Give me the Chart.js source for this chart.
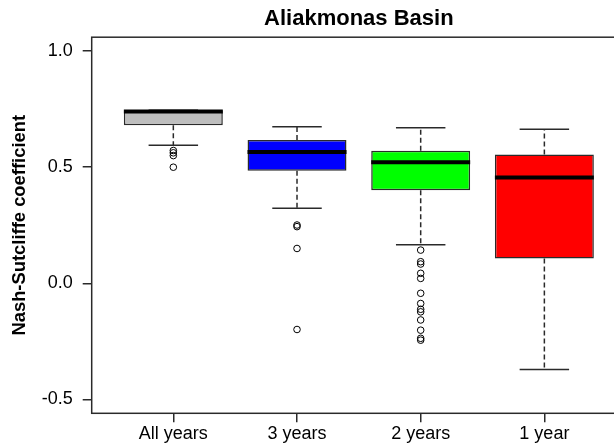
<!DOCTYPE html>
<html>
<head>
<meta charset="utf-8">
<script src="https://cdn.jsdelivr.net/npm/chart.js@4/dist/chart.umd.min.js"></script>
<style>
  html, body { margin: 0; padding: 0; background: #fff; overflow: hidden; }
  #wrap { width: 640px; height: 448px; }
</style>
</head>
<body>
<div id="wrap"><canvas id="c" width="640" height="448"></canvas></div>
<script>
// Box-plot summaries of the Nash-Sutcliffe coefficient per calibration period
const categories   = ['All years', '3 years', '2 years', '1 year'];
const boxColors    = ['#BEBEBE', '#0000FF', '#00FF00', '#FF0000'];
const lowerWhisker = [0.595, 0.323, 0.166, -0.371];
const q1           = [0.681, 0.485, 0.401, 0.107];
const median       = [0.740, 0.566, 0.521, 0.456];
const q3           = [0.745, 0.617, 0.571, 0.555];
const upperWhisker = [0.745, 0.674, 0.670, 0.664];
const outliers = [
  [0.572, 0.562, 0.550, 0.500],
  [0.251, 0.244, 0.150, -0.199],
  [0.143, 0.093, 0.083, 0.043, 0.021, -0.043, -0.087, -0.112, -0.123, -0.158, -0.202, -0.237, -0.245],
  []
];
const yTicks = [-0.5, 0.0, 0.5, 1.0];

const FONT = "'Liberation Sans', Arial, sans-serif";
const INK = '#2a2a2a';

// whiskers, caps and medians drawn from the box summaries through the chart scales
const boxParts = {
  id: 'boxParts',
  afterDatasetsDraw(chart) {
    const ctx = chart.ctx;
    const x = chart.scales.x, y = chart.scales.y;
    const bars = chart.getDatasetMeta(0).data;
    ctx.save();
    categories.forEach((c, i) => {
      const cx = x.getPixelForValue(i + 1);
      const half = bars[i].width / 2;
      const capHalf = half / 2;
      // dashed whiskers
      ctx.strokeStyle = INK;
      ctx.lineWidth = 1.5;
      ctx.setLineDash([5, 3]);
      ctx.beginPath();
      ctx.moveTo(cx, y.getPixelForValue(q3[i]));
      ctx.lineTo(cx, y.getPixelForValue(upperWhisker[i]));
      ctx.moveTo(cx, y.getPixelForValue(q1[i]));
      ctx.lineTo(cx, y.getPixelForValue(lowerWhisker[i]));
      ctx.stroke();
      // whisker caps
      ctx.setLineDash([]);
      ctx.beginPath();
      [upperWhisker[i], lowerWhisker[i]].forEach(v => {
        const py = y.getPixelForValue(v);
        ctx.moveTo(cx - capHalf, py);
        ctx.lineTo(cx + capHalf, py);
      });
      ctx.stroke();
      // median
      ctx.strokeStyle = '#000';
      ctx.lineWidth = 4;
      ctx.beginPath();
      const my = y.getPixelForValue(median[i]);
      ctx.moveTo(cx - half, my);
      ctx.lineTo(cx + half, my);
      ctx.stroke();
    });
    ctx.restore();
  },
  afterDraw(chart) {
    const a = chart.chartArea, ctx = chart.ctx;
    ctx.save();
    ctx.strokeStyle = INK;
    ctx.lineWidth = 1.5;
    ctx.strokeRect(a.left, a.top, a.right - a.left, a.bottom - a.top);
    ctx.restore();
  }
};

const boxData = categories.map((c, i) => ({ x: i + 1, y: [q1[i], q3[i]] }));
const outlierData = [];
outliers.forEach((list, i) => list.forEach(v => outlierData.push({ x: i + 1, y: v })));

new Chart(document.getElementById('c'), {
  type: 'bar',
  data: {
    datasets: [
      {
        type: 'bar',
        data: boxData,
        backgroundColor: boxColors,
        borderColor: INK,
        borderWidth: 1.5,
        borderSkipped: false,
        barPercentage: 0.8,
        categoryPercentage: 1.0
      },
      {
        type: 'scatter',
        data: outlierData,
        showLine: false,
        pointRadius: 3.3,
        pointBorderWidth: 1,
        pointBorderColor: '#000',
        pointBackgroundColor: 'rgba(0,0,0,0)'
      }
    ]
  },
  options: {
    responsive: false,
    animation: false,
    devicePixelRatio: 1,
    layout: { padding: { left: 0, right: 14, top: 0, bottom: 0 } },
    plugins: {
      legend: { display: false },
      tooltip: { enabled: false },
      title: {
        display: true,
        text: 'Aliakmonas Basin',
        fullSize: false,
        color: '#000',
        font: { family: FONT, size: 22, weight: 'bold', lineHeight: 1 },
        padding: { top: 8.3, bottom: 6.9 }
      }
    },
    scales: {
      x: {
        type: 'linear',
        min: 0.34,
        max: 4.66,
        offset: false,
        border: { display: false },
        grid: { offset: false, drawOnChartArea: false, drawTicks: true, tickLength: 9, tickColor: INK, lineWidth: 1.5 },
        afterBuildTicks: s => { s.ticks = categories.map((c, i) => ({ value: i + 1 })); },
        afterFit: s => { s.height = 34.7; },
        ticks: {
          autoSkip: false,
          maxRotation: 0,
          padding: 2.5,
          color: '#000',
          font: { family: FONT, size: 18, lineHeight: 1 },
          callback: v => categories[v - 1]
        }
      },
      y: {
        type: 'linear',
        min: -0.56,
        max: 1.06,
        border: { display: false },
        grid: { drawOnChartArea: false, drawTicks: true, tickLength: 9, tickColor: INK, lineWidth: 1.5 },
        afterBuildTicks: s => { s.ticks = yTicks.map(v => ({ value: v })); },
        afterFit: s => { s.width = 91.7; },
        ticks: {
          padding: 10,
          color: '#000',
          font: { family: FONT, size: 18, lineHeight: 1 },
          callback: v => v.toFixed(1)
        },
        title: {
          display: true,
          text: 'Nash-Sutcliffe coefficient',
          color: '#000',
          font: { family: FONT, size: 18.4, weight: 'bold', lineHeight: 1.2 },
          padding: { top: 9, bottom: 0 }
        }
      }
    }
  },
  plugins: [boxParts]
});
</script>
</body>
</html>
